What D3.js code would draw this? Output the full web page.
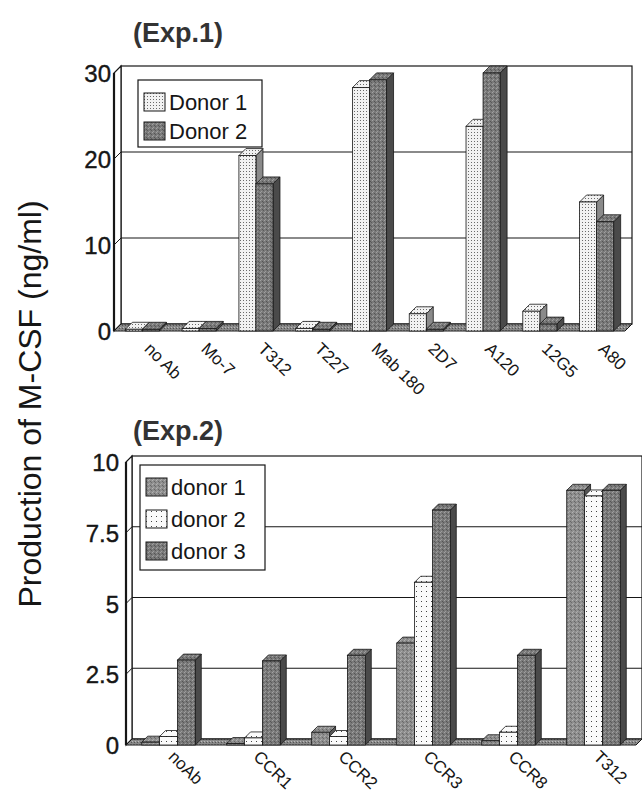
<!DOCTYPE html>
<html>
<head>
<meta charset="utf-8">
<script src="https://cdn.jsdelivr.net/npm/d3@7"></script>
<style>
  html, body { margin: 0; padding: 0; background: #fff; }
  svg { display: block; font-family: "Liberation Sans", Arial, Helvetica, sans-serif; }
</style>
</head>
<body>
<svg id="chart" width="642" height="794"></svg>
<script>
// Exp.1
const exp1Categories = ['no Ab', 'Mo-7', 'T312', 'T227', 'Mab 180', '2D7', 'A120', '12G5', 'A80'];
const exp1Donor1 = [0.2, 0.3, 20.4, 0.3, 28.3, 2.0, 23.8, 2.3, 15.0];
const exp1Donor2 = [0.2, 0.3, 17.1, 0.2, 29.2, 0.2, 30.0, 0.8, 12.7];
const exp1Ticks = [0, 10, 20, 30];

// Exp.2
const exp2Categories = ['noAb', 'CCR1', 'CCR2', 'CCR3', 'CCR8', 'T312'];
const exp2Donor1 = [0.1, 0.05, 0.45, 3.6, 0.15, 9.0];
const exp2Donor2 = [0.3, 0.25, 0.3, 5.75, 0.45, 8.8];
const exp2Donor3 = [3.0, 2.97, 3.17, 8.3, 3.17, 9.0];
const exp2Ticks = [0, 2.5, 5, 7.5, 10];

const svg = d3.select('#chart');
svg.append('rect').attr('width', 642).attr('height', 794).attr('fill', '#fff');
const defs = svg.append('defs');

function addPattern(id, size, bg, dots) {
    const p = defs.append('pattern')
        .attr('id', id)
        .attr('patternUnits', 'userSpaceOnUse')
        .attr('width', size)
        .attr('height', size);
    p.append('rect').attr('width', size).attr('height', size).attr('fill', bg);
    dots.forEach(d => {
        p.append('rect').attr('x', d[0]).attr('y', d[1]).attr('width', 1).attr('height', 1).attr('fill', d[2]);
    });
}

addPattern('dotsDense', 3, '#f2f2f2', [[0, 0, '#6a6a6a']]);
addPattern('dotsSparse', 5, '#fafafa', [[1, 1, '#444']]);
addPattern('grayDark', 4, '#7a7a7a', [[0, 0, '#a2a2a2'], [2, 1, '#555'], [1, 3, '#9c9c9c'], [3, 2, '#5a5a5a']]);
addPattern('grayMid', 4, '#8e8e8e', [[0, 0, '#b2b2b2'], [2, 1, '#666'], [1, 3, '#aaa'], [3, 2, '#6c6c6c']]);
addPattern('floorGray', 3, '#888', [[0, 0, '#bbb'], [2, 1, '#555']]);

const ink = '#161616';
const font = '"Liberation Sans", Arial, Helvetica, sans-serif';

function drawPanel(cfg) {
    const d = cfg.depth;
    const g = svg.append('g');

    const x = d3.scaleBand()
        .domain(cfg.categories)
        .range([cfg.left, cfg.right])
        .paddingInner(cfg.pad)
        .paddingOuter(cfg.pad / 2);

    const xs = d3.scaleBand()
        .domain(cfg.series.map(s => s.name))
        .range([0, x.bandwidth()]);

    const y = d3.scaleLinear().domain(cfg.domain).range([cfg.base, cfg.top]);

    // back wall
    g.append('rect')
        .attr('x', cfg.left + d)
        .attr('y', y(cfg.domain[1]) - d)
        .attr('width', cfg.right - cfg.left)
        .attr('height', y(cfg.domain[0]) - y(cfg.domain[1]))
        .attr('fill', '#fff')
        .attr('stroke', ink)
        .attr('stroke-width', 1.2);

    // left wall
    g.append('path')
        .attr('d', `M${cfg.left},${cfg.base} L${cfg.left},${y(cfg.domain[1])} L${cfg.left + d},${y(cfg.domain[1]) - d} L${cfg.left + d},${cfg.base - d} Z`)
        .attr('fill', '#fff')
        .attr('stroke', ink)
        .attr('stroke-width', 1.2);
    g.append('line')
        .attr('x1', cfg.left).attr('x2', cfg.left)
        .attr('y1', cfg.base).attr('y2', y(cfg.domain[1]))
        .attr('stroke', ink).attr('stroke-width', 2.2);

    // gridlines on back and left walls
    cfg.ticks.filter(t => t > cfg.domain[0] && t < cfg.domain[1]).forEach(t => {
        g.append('line')
            .attr('x1', cfg.left + d).attr('x2', cfg.right + d)
            .attr('y1', y(t) - d).attr('y2', y(t) - d)
            .attr('stroke', ink).attr('stroke-width', 1.1);
        g.append('line')
            .attr('x1', cfg.left).attr('x2', cfg.left + d)
            .attr('y1', y(t)).attr('y2', y(t) - d)
            .attr('stroke', ink).attr('stroke-width', 1);
    });

    // floor
    g.append('path')
        .attr('d', `M${cfg.left},${cfg.base} L${cfg.right},${cfg.base} L${cfg.right + d},${cfg.base - d} L${cfg.left + d},${cfg.base - d} Z`)
        .attr('fill', 'url(#floorGray)')
        .attr('stroke', ink)
        .attr('stroke-width', 1);

    // bars
    cfg.categories.forEach((cat, i) => {
        cfg.series.forEach(s => {
            const v = s.values[i];
            const x0 = x(cat) + xs(s.name);
            const w = xs.bandwidth();
            const yf = y(v);
            const bar = g.append('g');
            bar.append('path')
                .attr('d', `M${x0 + w},${yf} L${x0 + w + d},${yf - d} L${x0 + w + d},${cfg.base - d} L${x0 + w},${cfg.base} Z`)
                .attr('fill', s.side)
                .attr('stroke', ink).attr('stroke-width', 0.8);
            bar.append('path')
                .attr('d', `M${x0},${yf} L${x0 + w},${yf} L${x0 + w + d},${yf - d} L${x0 + d},${yf - d} Z`)
                .attr('fill', s.fill)
                .attr('stroke', ink).attr('stroke-width', 0.8);
            bar.append('rect')
                .attr('x', x0).attr('y', yf)
                .attr('width', w).attr('height', cfg.base - yf)
                .attr('fill', s.fill)
                .attr('stroke', ink).attr('stroke-width', 0.8);
        });
    });

    // y tick labels
    const yAxis = g.append('g')
        .attr('transform', `translate(${cfg.left},0)`)
        .call(d3.axisLeft(y).tickValues(cfg.ticks).tickSize(0).tickPadding(cfg.tickPad).tickFormat(d3.format('~g')));
    yAxis.select('.domain').remove();
    yAxis.selectAll('text')
        .style('font-family', font)
        .style('font-size', '24px')
        .attr('dy', '0.36em')
        .attr('fill', ink)
        .attr('stroke', ink)
        .attr('stroke-width', 0.4);

    // category labels
    const xAxis = g.append('g')
        .attr('transform', `translate(0,${cfg.base})`)
        .call(d3.axisBottom(x).tickSize(0));
    xAxis.select('.domain').remove();
    xAxis.selectAll('text')
        .attr('x', 0).attr('y', 0).attr('dy', 0)
        .attr('transform', `translate(${cfg.labelDx},${cfg.labelDy}) rotate(44)`)
        .style('text-anchor', 'start')
        .style('font-family', font)
        .style('font-size', cfg.labelSize + 'px')
        .attr('fill', ink);

    // legend
    const lg = g.append('g');
    lg.append('rect')
        .attr('x', cfg.legend.x).attr('y', cfg.legend.y)
        .attr('width', cfg.legend.w).attr('height', cfg.legend.h)
        .attr('fill', '#fff')
        .attr('stroke', ink).attr('stroke-width', 1.2);
    cfg.series.forEach((s, j) => {
        const cy = cfg.legend.y + cfg.legend.first + j * cfg.legend.step;
        lg.append('rect')
            .attr('x', cfg.legend.x + 6).attr('y', cy - 9)
            .attr('width', 21).attr('height', 18)
            .attr('fill', s.fill)
            .attr('stroke', ink).attr('stroke-width', 1);
        lg.append('text')
            .attr('x', cfg.legend.x + 31).attr('y', cy)
            .attr('dy', '0.36em')
            .style('font-size', '22px')
            .attr('fill', ink)
            .text(s.name);
    });

    // panel title
    svg.append('text')
        .attr('x', cfg.titleX).attr('y', cfg.titleY)
        .style('font-size', '27px')
        .style('font-weight', 'bold')
        .attr('fill', '#333')
        .text(cfg.title);
}

drawPanel({
    title: '(Exp.1)', titleX: 133, titleY: 42,
    categories: exp1Categories,
    series: [
        { name: 'Donor 1', values: exp1Donor1, fill: 'url(#dotsDense)', side: '#8a8a8a' },
        { name: 'Donor 2', values: exp1Donor2, fill: 'url(#grayDark)', side: '#4a4a4a' }
    ],
    domain: [0, 30], ticks: exp1Ticks,
    left: 114, right: 625, base: 331, top: 73, depth: 7, pad: 0.4,
    tickPad: 3, labelDx: 1, labelDy: 19, labelSize: 17,
    legend: { x: 138, y: 80, w: 124, h: 67, first: 22, step: 29 }
});

drawPanel({
    title: '(Exp.2)', titleX: 133, titleY: 440,
    categories: exp2Categories,
    series: [
        { name: 'donor 1', values: exp2Donor1, fill: 'url(#grayMid)', side: '#555' },
        { name: 'donor 2', values: exp2Donor2, fill: 'url(#dotsSparse)', side: '#8a8a8a' },
        { name: 'donor 3', values: exp2Donor3, fill: 'url(#grayDark)', side: '#4a4a4a' }
    ],
    domain: [0, 10], ticks: exp2Ticks,
    left: 126, right: 636, base: 745, top: 462, depth: 6, pad: 0.37,
    tickPad: 7, labelDx: -1, labelDy: 13, labelSize: 17,
    legend: { x: 140, y: 465, w: 125, h: 105, first: 22, step: 32 }
});

// shared y axis title
svg.append('text')
    .attr('transform', 'translate(41,404) rotate(-90)')
    .style('text-anchor', 'middle')
    .style('font-size', '32px')
    .attr('fill', ink)
    .text('Production of M-CSF (ng/ml)');
</script>
</body>
</html>
